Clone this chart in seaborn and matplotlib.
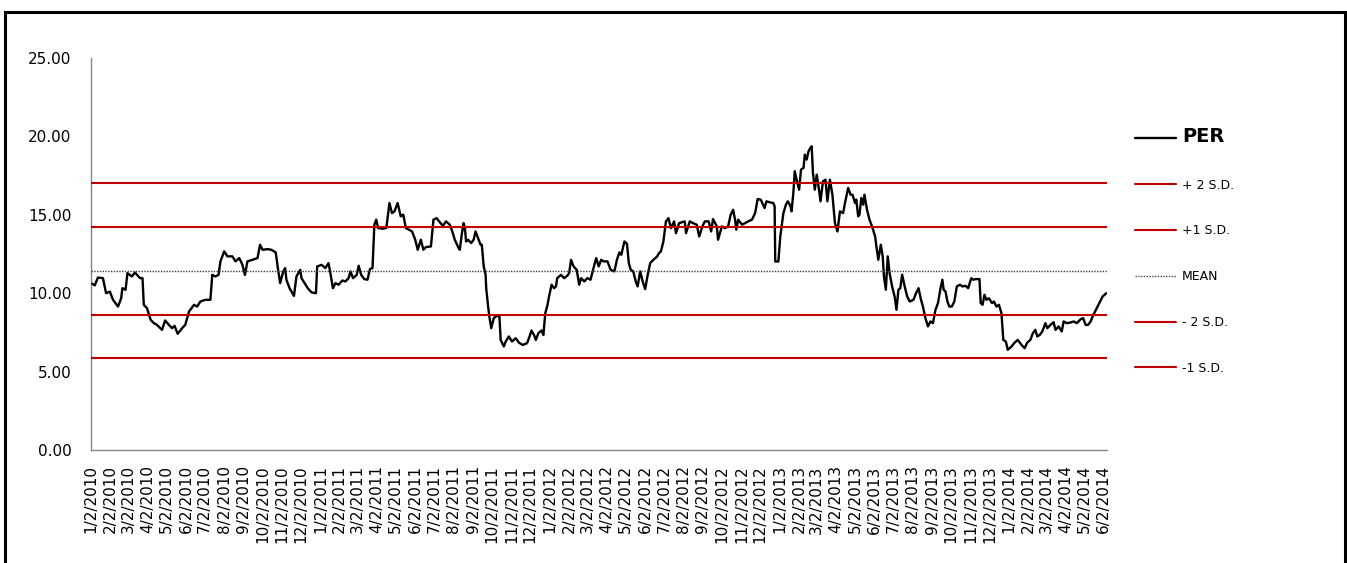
import matplotlib
matplotlib.use("Agg")
import matplotlib.pyplot as plt
import matplotlib.dates as mdates
from matplotlib.lines import Line2D
from matplotlib.patches import Rectangle
import pandas as pd
import seaborn as sns

# ---------------- data ----------------
dates = [
    "2010-01-04", "2010-01-08", "2010-01-13", "2010-01-21", "2010-01-26", "2010-02-01", "2010-02-06",
    "2010-02-14", "2010-02-19", "2010-02-21", "2010-02-26", "2010-03-01", "2010-03-08", "2010-03-13",
    "2010-03-21", "2010-03-25", "2010-03-27", "2010-04-01", "2010-04-07", "2010-04-12", "2010-04-17",
    "2010-04-25", "2010-04-30", "2010-05-06", "2010-05-11", "2010-05-15", "2010-05-20", "2010-05-27",
    "2010-06-01", "2010-06-04", "2010-06-07", "2010-06-15", "2010-06-20", "2010-06-25", "2010-07-03",
    "2010-07-11", "2010-07-14", "2010-07-19", "2010-07-24", "2010-07-27", "2010-08-02", "2010-08-07",
    "2010-08-15", "2010-08-20", "2010-08-26", "2010-08-31", "2010-09-04", "2010-09-08", "2010-09-16",
    "2010-09-24", "2010-09-28", "2010-10-02", "2010-10-10",
    "2010-10-16", "2010-10-23", "2010-10-26", "2010-10-30", "2010-11-04", "2010-11-07", "2010-11-09",
    "2010-11-14", "2010-11-17", "2010-11-21", "2010-11-25", "2010-12-01", "2010-12-03", "2010-12-08",
    "2010-12-13", "2010-12-19", "2010-12-26", "2010-12-28", "2011-01-04", "2011-01-10", "2011-01-15",
    "2011-01-18", "2011-01-22", "2011-01-26", "2011-01-31", "2011-02-06", "2011-02-11", "2011-02-16",
    "2011-02-19", "2011-02-23", "2011-03-01", "2011-03-04", "2011-03-08", "2011-03-13", "2011-03-18",
    "2011-03-22", "2011-03-26", "2011-03-29", "2011-04-01", "2011-04-04", "2011-04-11", "2011-04-17",
    "2011-04-22", "2011-04-26", "2011-04-30", "2011-05-05", "2011-05-10", "2011-05-14", "2011-05-18",
    "2011-05-23", "2011-05-28", "2011-06-02", "2011-06-06", "2011-06-11", "2011-06-15", "2011-06-19",
    "2011-06-27", "2011-07-01", "2011-07-06", "2011-07-10",
    "2011-07-16", "2011-07-21", "2011-07-27", "2011-07-31", "2011-08-04", "2011-08-10", "2011-08-12",
    "2011-08-15", "2011-08-18", "2011-08-20", "2011-08-22", "2011-08-25", "2011-08-30", "2011-09-03",
    "2011-09-06", "2011-09-11", "2011-09-14", "2011-09-16", "2011-09-19", "2011-09-22", "2011-09-23",
    "2011-09-26", "2011-09-28", "2011-10-01", "2011-10-05", "2011-10-10", "2011-10-14", "2011-10-16",
    "2011-10-21", "2011-10-24", "2011-10-29", "2011-11-03", "2011-11-09", "2011-11-14", "2011-11-20",
    "2011-11-27", "2011-12-01", "2011-12-04", "2011-12-08", "2011-12-11", "2011-12-15", "2011-12-20",
    "2011-12-23", "2011-12-26", "2011-12-29", "2012-01-01", "2012-01-05", "2012-01-09", "2012-01-12",
    "2012-01-14", "2012-01-20", "2012-01-25", "2012-01-30", "2012-02-02", "2012-02-05", "2012-02-09",
    "2012-02-14", "2012-02-18", "2012-02-21", "2012-02-26", "2012-03-02", "2012-03-07", "2012-03-11",
    "2012-03-16", "2012-03-20", "2012-03-24", "2012-03-28", "2012-04-03", "2012-04-08",
    "2012-04-14", "2012-04-18", "2012-04-22", "2012-04-25", "2012-04-30", "2012-05-04", "2012-05-07",
    "2012-05-10", "2012-05-14", "2012-05-18", "2012-05-21", "2012-05-25", "2012-05-29", "2012-06-02",
    "2012-06-06", "2012-06-10", "2012-06-15", "2012-06-21", "2012-06-24", "2012-06-27", "2012-07-01",
    "2012-07-05", "2012-07-09", "2012-07-13", "2012-07-18", "2012-07-21", "2012-07-26", "2012-08-04",
    "2012-08-06", "2012-08-12", "2012-08-17", "2012-08-23", "2012-08-27", "2012-09-01", "2012-09-05",
    "2012-09-11", "2012-09-15", "2012-09-18", "2012-09-24", "2012-09-26", "2012-10-02", "2012-10-07",
    "2012-10-12", "2012-10-16", "2012-10-20", "2012-10-23", "2012-10-25", "2012-10-28", "2012-11-03",
    "2012-11-08", "2012-11-13", "2012-11-19", "2012-11-24", "2012-11-28", "2012-12-03", "2012-12-09",
    "2012-12-12", "2012-12-18", "2012-12-23", "2012-12-25", "2012-12-26", "2012-12-31", "2013-01-03",
    "2013-01-08", "2013-01-12", "2013-01-15", "2013-01-19", "2013-01-21", "2013-01-24", "2013-01-26",
    "2013-01-29", "2013-02-02", "2013-02-05", "2013-02-09", "2013-02-11", "2013-02-14", "2013-02-17",
    "2013-02-20", "2013-02-22", "2013-02-24", "2013-02-27", "2013-03-02", "2013-03-06", "2013-03-08",
    "2013-03-12", "2013-03-16", "2013-03-19", "2013-03-23", "2013-03-27", "2013-03-31", "2013-04-04",
    "2013-04-08", "2013-04-13", "2013-04-16", "2013-04-21", "2013-04-25", "2013-04-28", "2013-05-02",
    "2013-05-04", "2013-05-07", "2013-05-09", "2013-05-12", "2013-05-15", "2013-05-17", "2013-05-21",
    "2013-05-25", "2013-05-29", "2013-06-03", "2013-06-05", "2013-06-08", "2013-06-12", "2013-06-15",
    "2013-06-17", "2013-06-20", "2013-06-23", "2013-06-26", "2013-06-30", "2013-07-04", "2013-07-07",
    "2013-07-10", "2013-07-13", "2013-07-16", "2013-07-20", "2013-07-24", "2013-07-28", "2013-08-03",
    "2013-08-07", "2013-08-11", "2013-08-15", "2013-08-18", "2013-08-22", "2013-08-26", "2013-08-30",
    "2013-09-03", "2013-09-07", "2013-09-11", "2013-09-15", "2013-09-18", "2013-09-20", "2013-09-23",
    "2013-09-26", "2013-09-29", "2013-10-03", "2013-10-07", "2013-10-11",
    "2013-10-16", "2013-10-20", "2013-10-25", "2013-10-29", "2013-11-03", "2013-11-06", "2013-11-10",
    "2013-11-16", "2013-11-18", "2013-11-21", "2013-11-24", "2013-11-27", "2013-12-01", "2013-12-06",
    "2013-12-09", "2013-12-13", "2013-12-17", "2013-12-21", "2013-12-24", "2013-12-28", "2013-12-31",
    "2014-01-06", "2014-01-11", "2014-01-16", "2014-01-22", "2014-01-27", "2014-01-31", "2014-02-05",
    "2014-02-09", "2014-02-13", "2014-02-16", "2014-02-20", "2014-02-24", "2014-03-01", "2014-03-04",
    "2014-03-09", "2014-03-14", "2014-03-17", "2014-03-22", "2014-03-27", "2014-03-30", "2014-04-04",
    "2014-04-10", "2014-04-15", "2014-04-20", "2014-04-26", "2014-04-30", "2014-05-04", "2014-05-08",
    "2014-05-12", "2014-05-15", "2014-05-19", "2014-05-23", "2014-05-27", "2014-05-31", "2014-06-06",
]

per = [
    10.60, 10.50, 11.00, 10.96, 10.00, 10.10, 9.58,
    9.15, 9.68, 10.32, 10.22, 11.28, 11.07, 11.32,
    10.96, 10.96, 9.26, 9.05, 8.30, 8.09, 7.98,
    7.66, 8.26, 7.98, 7.77, 7.92, 7.41, 7.77,
    7.98, 8.41, 8.83, 9.26, 9.15, 9.47, 9.58,
    9.58, 11.17, 11.07, 11.17, 12.03, 12.67, 12.35,
    12.35, 12.03, 12.24, 11.81, 11.17, 12.03, 12.13,
    12.24, 13.09, 12.77, 12.81,
    12.77, 12.60, 11.71, 10.64, 11.39, 11.60, 10.86,
    10.32, 10.11, 9.83, 11.07, 11.49, 10.96, 10.64,
    10.32, 10.05, 10.00, 11.71, 11.81, 11.60, 11.92,
    11.28, 10.32, 10.64, 10.54, 10.81, 10.75, 10.96,
    11.39, 10.96, 11.17, 11.75, 11.17, 10.90, 10.86,
    11.54, 11.60, 14.37, 14.69, 14.16, 14.11, 14.16,
    15.75, 15.11, 15.22, 15.75, 14.90, 15.01, 14.16,
    14.05, 13.94, 13.41, 12.77, 13.41, 12.77, 12.94,
    12.98, 14.69, 14.79, 14.58,
    14.30, 14.58, 14.37, 13.94, 13.41, 12.88, 12.77,
    13.73, 14.47, 14.16, 13.30, 13.41, 13.20, 13.41,
    13.94, 13.41, 13.09, 13.09, 11.71, 11.17, 10.32,
    9.15, 8.51, 7.77, 8.41, 8.56, 8.51, 7.02,
    6.60, 6.92, 7.24, 6.92, 7.13, 6.85, 6.70,
    6.81, 7.24, 7.62, 7.34, 7.02, 7.45, 7.62,
    7.34, 8.73, 9.15, 9.79, 10.54, 10.32, 10.43,
    10.96, 11.17, 10.96, 11.11, 11.28, 12.13, 11.71,
    11.49, 10.54, 10.96, 10.75, 10.96, 10.86, 11.49,
    12.24, 11.71, 12.13, 12.03, 12.03, 11.49,
    11.39, 12.13, 12.60, 12.45, 13.30, 13.15, 11.92,
    11.49, 11.39, 10.75, 10.43, 11.39, 10.75, 10.26,
    11.17, 11.92, 12.13, 12.34, 12.56, 12.66, 13.30,
    14.58, 14.79, 14.15, 14.58, 13.83, 14.47, 14.58,
    13.83, 14.58, 14.47, 14.37, 13.62, 14.26, 14.58,
    14.58, 13.94, 14.73, 14.26, 13.41, 14.26, 14.15,
    14.26, 15.00, 15.32, 14.69, 14.05, 14.69, 14.37,
    14.47, 14.58, 14.69, 15.11, 16.01, 15.96, 15.43,
    15.86, 15.79, 15.75, 15.54, 12.02, 12.02, 13.62,
    15.11, 15.65, 15.86, 15.58, 15.22, 16.50, 17.78,
    17.24, 16.60, 17.88, 17.99, 18.84, 18.52, 19.05,
    19.27, 19.37, 17.67, 16.60, 17.56, 16.50, 15.86,
    17.14, 17.24, 15.86, 17.24, 16.28, 14.48, 13.94,
    15.22, 15.11, 15.75, 16.71, 16.28, 16.28, 15.75,
    15.97, 14.90, 15.00, 16.07, 15.65, 16.28, 15.33,
    14.69, 14.26, 13.62, 12.98, 12.13, 13.09, 12.35,
    11.07, 10.22, 12.35, 11.28, 10.43, 9.79, 8.94,
    10.22, 10.32, 11.18, 10.43, 9.79, 9.47, 9.58,
    10.00, 10.32, 9.58, 9.15, 8.41, 7.88, 8.20,
    8.09, 8.94, 9.37, 10.32, 10.86, 10.22, 10.11,
    9.47, 9.15, 9.15, 9.47, 10.43,
    10.54, 10.43, 10.47, 10.32, 10.96, 10.86, 10.90,
    10.90, 9.37, 9.26, 9.90, 9.58, 9.68, 9.37,
    9.47, 9.15, 9.26, 8.73, 7.02, 6.92, 6.39,
    6.60, 6.85, 7.02, 6.70, 6.49, 6.85, 7.02,
    7.45, 7.66, 7.24, 7.34, 7.56, 8.09, 7.77,
    7.98, 8.15, 7.66, 7.88, 7.56, 8.20, 8.09,
    8.13, 8.20, 8.09, 8.34, 8.41, 7.98, 7.98,
    8.20, 8.51, 8.83, 9.15, 9.47, 9.79, 10.00,
]

band_labels = ["+ 2 S.D.", "+1 S.D.", "MEAN", "- 2 S.D.", "-1 S.D."]
band_values = [17.00, 14.20, 11.42, 8.64, 5.86]
yticks = [0, 5, 10, 15, 20, 25]
axis_start = "2010-01-02"
axis_end = "2014-06-07"

# ---------------- style ----------------
sns.set_style("white")
plt.rcParams["font.family"] = ["DejaVu Sans"]
plt.rcParams["text.color"] = "black"

W, H = 1347, 563
fig = plt.figure(figsize=(W / 100, H / 100), dpi=100)
fig.patch.set_facecolor("white")

ax_l, ax_r, ax_t, ax_b = 91, 1107, 58, 450
ax = fig.add_axes([ax_l / W, 1 - ax_b / H, (ax_r - ax_l) / W, (ax_b - ax_t) / H])
ax.set_facecolor("white")

df = pd.DataFrame({"date": pd.to_datetime(dates), "PER": per})
sns.lineplot(data=df, x="date", y="PER", ax=ax, color="black", linewidth=1.7,
             zorder=3, legend=False)

band_colors = ["#C00000", "#C00000", "#404040", "#C00000", "#C00000"]
band_styles = ["-", "-", (0, (1, 1)), "-", "-"]
band_widths = [1.5, 1.5, 1.0, 1.5, 1.5]
for val, col, ls, lw in zip(band_values, band_colors, band_styles, band_widths):
    ax.axhline(val, color=col, linestyle=ls, linewidth=lw, zorder=4)

ax.set_xlim(pd.Timestamp(axis_start), pd.Timestamp(axis_end))
ax.set_ylim(0, 25)
ax.set_yticks(yticks)
ax.yaxis.set_major_formatter(matplotlib.ticker.FormatStrFormatter("%.2f"))

ax.xaxis.set_major_locator(mdates.MonthLocator(bymonthday=2))
ax.xaxis.set_major_formatter(
    matplotlib.ticker.FuncFormatter(
        lambda v, p: (lambda d: f"{d.month}/{d.day}/{d.year}")(mdates.num2date(v))))

ax.set_xlabel("")
ax.set_ylabel("")
for s in ["top", "right"]:
    ax.spines[s].set_visible(False)
for s in ["left", "bottom"]:
    ax.spines[s].set_color("#868686")
    ax.spines[s].set_linewidth(1.0)

ax.tick_params(axis="y", direction="out", length=6, width=1, color="#868686",
               labelsize=11, labelcolor="black", pad=8)
ax.tick_params(axis="x", direction="out", length=4, width=1, color="#868686",
               labelsize=11, labelcolor="black", pad=7, labelrotation=90)
ax.grid(False)

# legend
handles = [Line2D([], [], color="black", linewidth=1.7)]
for col, ls, lw in zip(band_colors, band_styles, band_widths):
    handles.append(Line2D([], [], color=col, linestyle=ls, linewidth=lw))
labels = ["PER"] + band_labels
leg = ax.legend(handles, labels, loc="upper left",
                bbox_to_anchor=(1135 / W, 1 - 127 / H), bbox_transform=fig.transFigure,
                frameon=False, borderpad=0, borderaxespad=0, handlelength=3.3,
                handletextpad=0.45, labelspacing=2.62, fontsize=9)
for t in leg.get_texts():
    t.set_color("black")
leg.get_texts()[0].set_fontsize(14)
leg.get_texts()[0].set_fontweight("bold")

# outer border
fig.patches.append(Rectangle((5 / W, -0.02), (1345 - 5) / W, 1.02 - 12 / H,
                             transform=fig.transFigure, fill=False,
                             edgecolor="black", linewidth=2.2, zorder=10))

fig.savefig("out.png", dpi=100, facecolor="white")
